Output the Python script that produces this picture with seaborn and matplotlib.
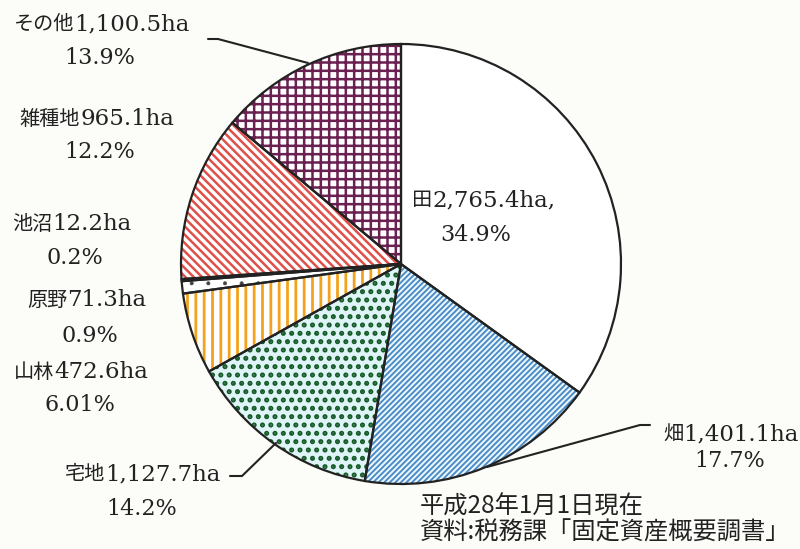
import matplotlib
matplotlib.use("Agg")
import matplotlib.pyplot as plt
import seaborn as sns

sns.set_style("white")
plt.rcParams['font.family'] = ['Noto Sans CJK JP', 'DejaVu Sans']
plt.rcParams['hatch.linewidth'] = 1.6

# land use area (ha), clockwise from top
names = ["田", "畑", "宅地", "山林", "原野", "池沼", "雑種地", "その他"]
areas = [2765.4, 1401.1, 1127.7, 472.6, 71.3, 12.2, 965.1, 1100.5]
area_txt = ["2,765.4ha,", "1,401.1ha", "1,127.7ha", "472.6ha", "71.3ha", "12.2ha", "965.1ha", "1,100.5ha"]
pct_txt = ["34.9%", "17.7%", "14.2%", "6.01%", "0.9%", "0.2%", "12.2%", "13.9%"]

face_colors = ["white", "#eef8fc", "#dff4f6", "white", "white", "white", "white", "white"]
hatch_colors = ["white", "#4a8cc8", "#145a26", "#f2a21c", "#444444", "#444444", "#e0504a", "#6a2050"]
hatches = [None, "//////", "..", "||", ".", None, "\\\\\\\\", "++"]
hatch_lw = [1.6, 1.4, 2.4, 2.0, 0.4, 1.0, 1.8, 1.8]

bg = "#fcfcf8"
fig = plt.figure(figsize=(8, 5.49), dpi=100)
fig.patch.set_facecolor(bg)
ax = fig.add_axes([181 / 800, 65 / 549, 440 / 800, 440 / 549])
ax.set_facecolor(bg)

# hatched fills, one pass per slice so each gets its own hatch width
for i in range(len(areas)):
    with plt.rc_context({'hatch.linewidth': hatch_lw[i]}):
        wedges, _ = ax.pie(areas, startangle=90, counterclock=False,
                           wedgeprops=dict(linewidth=0))
        for j, w in enumerate(wedges):
            if j != i:
                w.set_visible(False)
                continue
            w.set_facecolor(face_colors[i])
            w.set_edgecolor(hatch_colors[i])
            if hatches[i]:
                w.set_hatch(hatches[i])

# outlines on top
ax.pie(areas, startangle=90, counterclock=False,
       wedgeprops=dict(facecolor="none", edgecolor="#222222", linewidth=1.6))
ax.set_xlim(-1, 1)
ax.set_ylim(-1, 1)
ax.set_aspect("equal")
ax.axis("off")

ink = "#222222"
cjk = ['Noto Sans CJK JP', 'DejaVu Sans']
serif = ['DejaVu Serif', 'Noto Sans CJK JP']
renderer = fig.canvas.get_renderer()

def label(x, y, name, num, align="left"):
    # name in CJK, number in a serif face, joined on one baseline
    t1 = fig.text(0, 0, name, fontsize=14.5, family=cjk, color=ink, va="baseline")
    t2 = fig.text(0, 0, num, fontsize=16.5, family=serif, color=ink, va="baseline")
    w1 = t1.get_window_extent(renderer).width
    w2 = t2.get_window_extent(renderer).width
    if align == "center":
        x0 = x - (w1 + w2) / 2
    elif align == "right":
        x0 = x - (w1 + w2)
    else:
        x0 = x
    t1.set_position((x0 / 800, 1 - y / 549))
    t2.set_position(((x0 + w1) / 800, 1 - y / 549))

def pct(x, y, s):
    fig.text(x / 800, 1 - y / 549, s, fontsize=16, family=serif, color=ink,
             ha="center", va="baseline")

label(412, 206, names[0], area_txt[0])
pct(476, 241, pct_txt[0])
label(663, 440, names[1], area_txt[1])
pct(730, 467, pct_txt[1])
label(221, 480, names[2], area_txt[2], align="right")
pct(142, 515, pct_txt[2])
label(14, 378, names[3], area_txt[3])
pct(80, 411, pct_txt[3])
label(27, 306, names[4], area_txt[4])
pct(90, 342, pct_txt[4])
label(12, 230, names[5], area_txt[5])
pct(75, 264, pct_txt[5])
label(97, 125, names[6], area_txt[6], align="center")
pct(100, 158, pct_txt[6])
label(102, 30, names[7], area_txt[7], align="center")
pct(100, 64, pct_txt[7])

fig.text(420 / 800, 1 - 507 / 549, "平成28年1月1日現在", fontsize=17.5,
         family=cjk, color=ink, ha="left", va="center")
fig.text(420 / 800, 1 - 533 / 549, "資料:税務課「固定資産概要調書」", fontsize=17.5,
         family=cjk, color=ink, ha="left", va="center")

# leader lines (figure pixel coords)
def leader(xs, ys):
    fig.add_artist(plt.Line2D([x / 800 for x in xs], [1 - y / 549 for y in ys],
                              color=ink, linewidth=1.5))

leader([208, 218, 308], [39, 39, 63])
leader([650, 640, 487], [425, 425, 467])
leader([230, 242, 276], [476, 476, 443])

fig.savefig("out.png", dpi=100, facecolor=bg)
